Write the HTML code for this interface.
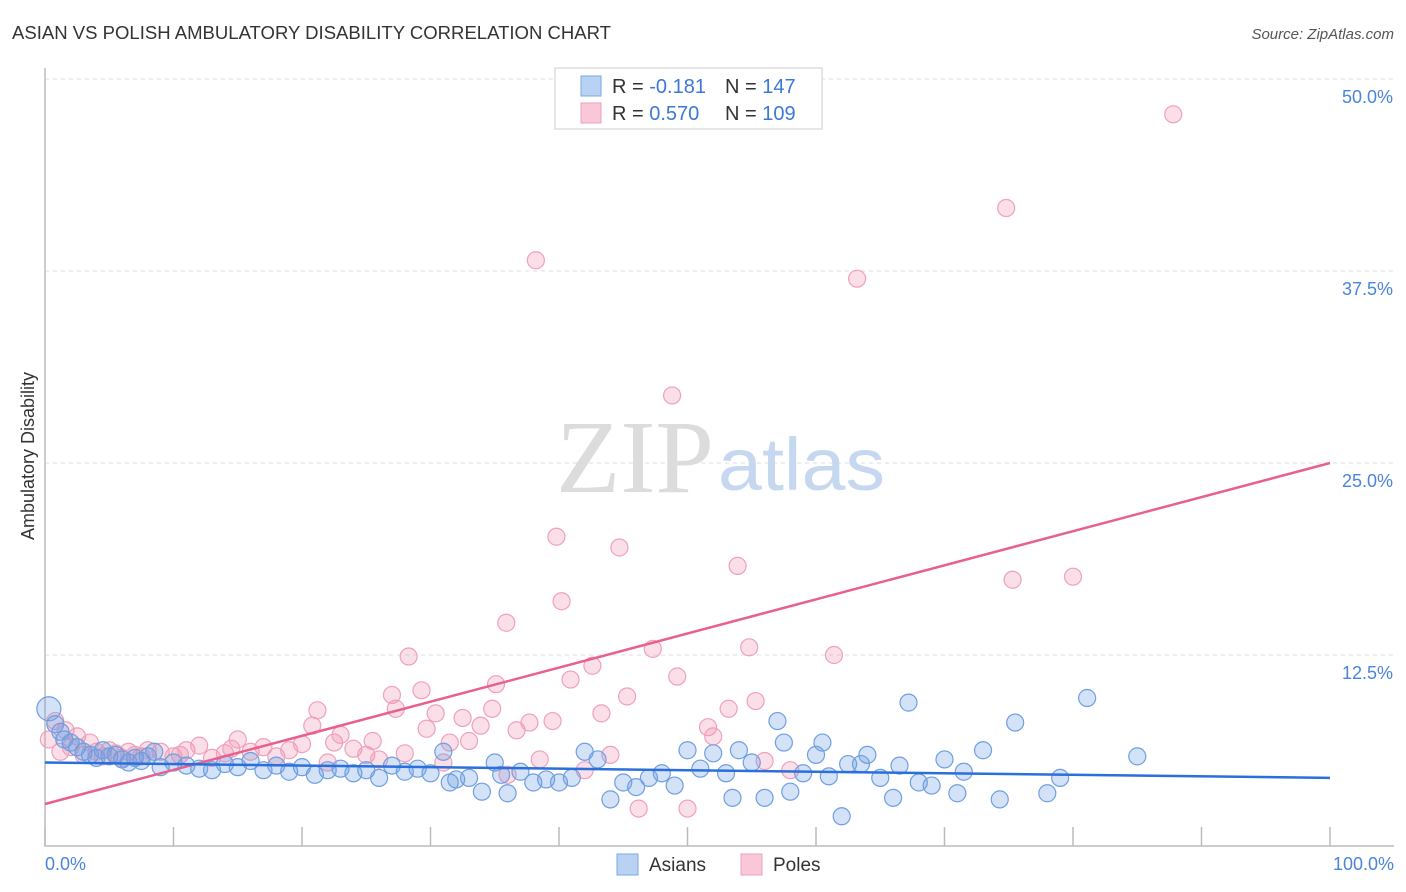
<!DOCTYPE html>
<html><head><meta charset="utf-8"><style>
body{margin:0;background:#fff;font-family:"Liberation Sans",sans-serif}
svg{display:block}
</style></head><body>
<svg id="chart" width="1406" height="892">
<text x="12" y="39" font-size="18" fill="#333" textLength="599" lengthAdjust="spacingAndGlyphs">ASIAN VS POLISH AMBULATORY DISABILITY CORRELATION CHART</text>
<text x="1394" y="39" font-size="15" fill="#555" font-style="italic" text-anchor="end">Source: ZipAtlas.com</text>
<g id="grid"></g>
<text x="714" y="492" font-size="104" font-family="Liberation Serif,serif" fill="#dcdcdc" text-anchor="end" textLength="158" lengthAdjust="spacingAndGlyphs">ZIP</text>
<text x="718" y="490" font-size="74" fill="#c6d8ef" textLength="167" lengthAdjust="spacingAndGlyphs">atlas</text>
<text transform="translate(34,456) rotate(-90)" font-size="18" fill="#333" text-anchor="middle">Ambulatory Disability</text>
<g id="pts"></g>
<g id="lines"></g>
<g>
<rect x="555" y="68" width="267" height="61" fill="#fff" stroke="#ccc"/>
<rect x="581" y="76" width="20" height="20" fill="#b9d1f3" stroke="#7aaae6"/>
<text x="612" y="93" font-size="20" fill="#333">R = <tspan fill="#3b78d8">-0.181</tspan></text>
<text x="725" y="93" font-size="20" fill="#333">N = <tspan fill="#3b78d8">147</tspan></text>
<rect x="581" y="103" width="20" height="20" fill="#f8c8d8" stroke="#f0a0bb"/>
<text x="612" y="120" font-size="20" fill="#333">R = <tspan fill="#3b78d8">0.570</tspan></text>
<text x="725" y="120" font-size="20" fill="#333">N = <tspan fill="#3b78d8">109</tspan></text>
</g>
<g>
<rect x="617" y="854" width="21" height="21" fill="#b9d1f3" stroke="#7aaae6"/>
<text x="649" y="871" font-size="19" fill="#333">Asians</text>
<rect x="741" y="854" width="21" height="21" fill="#f8c8d8" stroke="#f0a0bb"/>
<text x="773" y="871" font-size="19" fill="#333">Poles</text>
</g>
</svg>
<script>
const yTicks=[12.5,25,37.5,50];
const yTickLabels=["12.5%","25.0%","37.5%","50.0%"];
const xTickLabels=["0.0%","100.0%"];
const asians=[[0.3,9.0],[0.8,8.0],[1.2,7.5],[1.5,7.0],[2,6.8],[2.5,6.5],[3,6.2],[3.5,6.0],[4,5.8],[4.5,6.3],[5,5.9],[5.5,6.0],[6,5.7],[6.5,5.5],[7,5.8],[7.5,5.6],[8,5.9],[8.5,6.2],[9,5.2],[10,5.5],[11,5.3],[12,5.1],[13,5.0],[14,5.4],[15,5.2],[16,5.6],[17,5.0],[18,5.3],[19,4.9],[20,5.2],[21,4.7],[22,5.0],[23,5.1],[24,4.8],[25,5.0],[26,4.5],[27,5.3],[28,4.9],[29,5.1],[30,4.8],[31,6.2],[31.5,4.2],[32,4.4],[33,4.5],[34,3.6],[35,5.5],[35.5,4.7],[36,3.5],[37,4.9],[38,4.2],[39,4.4],[40,4.2],[41,4.5],[42,6.2],[43,5.7],[44,3.1],[45,4.2],[46,3.9],[47,4.5],[48,4.8],[49,4.0],[50,6.3],[51,5.1],[52,6.1],[53,4.8],[53.5,3.2],[54,6.3],[55,5.5],[56,3.2],[57,8.2],[57.5,6.8],[58,3.6],[59,4.8],[60,6.0],[60.5,6.8],[61,4.6],[62,2.0],[62.5,5.4],[63.5,5.4],[64,6.0],[65,4.5],[66,3.2],[66.5,5.3],[67.2,9.4],[68,4.2],[69,4.0],[70,5.7],[71,3.5],[71.5,4.9],[73,6.3],[74.3,3.1],[75.5,8.1],[78,3.5],[79,4.5],[81.1,9.7],[85,5.9]];
const poles=[[0.3,7.0],[0.8,8.2],[1.2,6.2],[1.6,7.6],[2,6.5],[2.5,7.2],[3,6.0],[3.5,6.8],[4,6.2],[4.5,5.9],[5,6.3],[5.5,6.1],[6,5.8],[6.5,6.2],[7,6.0],[7.5,5.9],[8,6.3],[9,6.2],[10,5.9],[10.5,6.0],[11,6.3],[12,6.6],[13,5.8],[14,6.1],[14.5,6.4],[15,7.0],[16,6.2],[17,6.5],[18,5.9],[19,6.3],[20,6.7],[20.8,7.9],[21.2,8.9],[22,5.5],[22.5,6.8],[23,7.3],[24,6.4],[25,6.0],[25.5,6.9],[26,5.7],[27,9.9],[27.3,9.0],[28,6.1],[28.3,12.4],[29.3,10.2],[29.7,7.7],[30.4,8.7],[31,5.5],[31.5,6.8],[32.5,8.4],[33,6.9],[33.9,7.9],[34.8,9.0],[35.1,10.6],[35.9,14.6],[36,4.7],[36.7,7.6],[37.7,8.1],[38.2,38.2],[38.5,5.7],[39.5,8.2],[39.8,20.2],[40.2,16.0],[40.9,10.9],[42,5.0],[42.6,11.8],[43.3,8.7],[44,6.0],[44.7,19.5],[45.3,9.8],[46.2,2.5],[47.3,12.9],[48.8,29.4],[49.2,11.1],[50,2.5],[51.6,7.8],[52,7.2],[53.2,9.0],[53.9,18.3],[54.8,13.0],[55.3,9.5],[56,5.6],[58,5.0],[61.4,12.5],[63.2,37.0],[74.8,41.6],[75.3,17.4],[80,17.6],[87.8,47.7]];
const asiansTrend=[5.5,4.5];
const polesTrend=[2.8,25.0];
const NS="http://www.w3.org/2000/svg";
const X=v=>45+v*12.85, Y=v=>847-v*15.36;
function mk(tag,attrs,parent){const e=document.createElementNS(NS,tag);for(const k in attrs)e.setAttribute(k,attrs[k]);document.getElementById(parent).appendChild(e);return e;}
yTicks.forEach((t,i)=>{
 const l=mk('line',{x1:45,x2:1394,y1:Y(t),y2:Y(t),stroke:'#ddd','stroke-dasharray':'4,4'},'grid');
 
 
 const tx=mk('text',{x:1393,y:Y(t)+24,'font-size':18,fill:'#4a84dc','text-anchor':'end'},'grid');
 tx.textContent=yTickLabels[i];
 
 
});
const ax=mk('path',{d:'M45,68 V846 H1394',fill:'none',stroke:'#bbb','stroke-width':1.5},'grid');


for(let i=0;i<=10;i++){
 const t=mk('line',{x1:X(i*10),x2:X(i*10),y1:827,y2:846,stroke:'#bbb','stroke-width':1.5},'grid');
 
 
}
[[0,'start',45],[1,'end',1394]].forEach(([i,a,x])=>{
 const tx=mk('text',{x:x,y:870,'font-size':18,fill:'#4a84dc','text-anchor':a},'grid');
 tx.textContent=xTickLabels[i];
 
 
});
poles.forEach(p=>{
 const c=mk('circle',{cx:X(p[0]),cy:Y(p[1]),r:8.5,fill:'rgba(240,150,180,0.3)',stroke:'#f0a0bb','stroke-width':1.2},'pts');
 
 
});
asians.forEach((p,i)=>{
 const c=mk('circle',{cx:X(p[0]),cy:Y(p[1]),r:i==0?12:8.5,fill:'rgba(110,160,230,0.3)',stroke:'#6f9fe0','stroke-width':1.2},'pts');
 
 
});
const pl=mk('line',{x1:X(0),y1:Y(polesTrend[0]),x2:X(100),y2:Y(polesTrend[1]),stroke:'#e8608e','stroke-width':2.5},'lines');


const bl=mk('line',{x1:X(0),y1:Y(asiansTrend[0]),x2:X(100),y2:Y(asiansTrend[1]),stroke:'#2a6fdb','stroke-width':2.5},'lines');


</script>
</body></html>
